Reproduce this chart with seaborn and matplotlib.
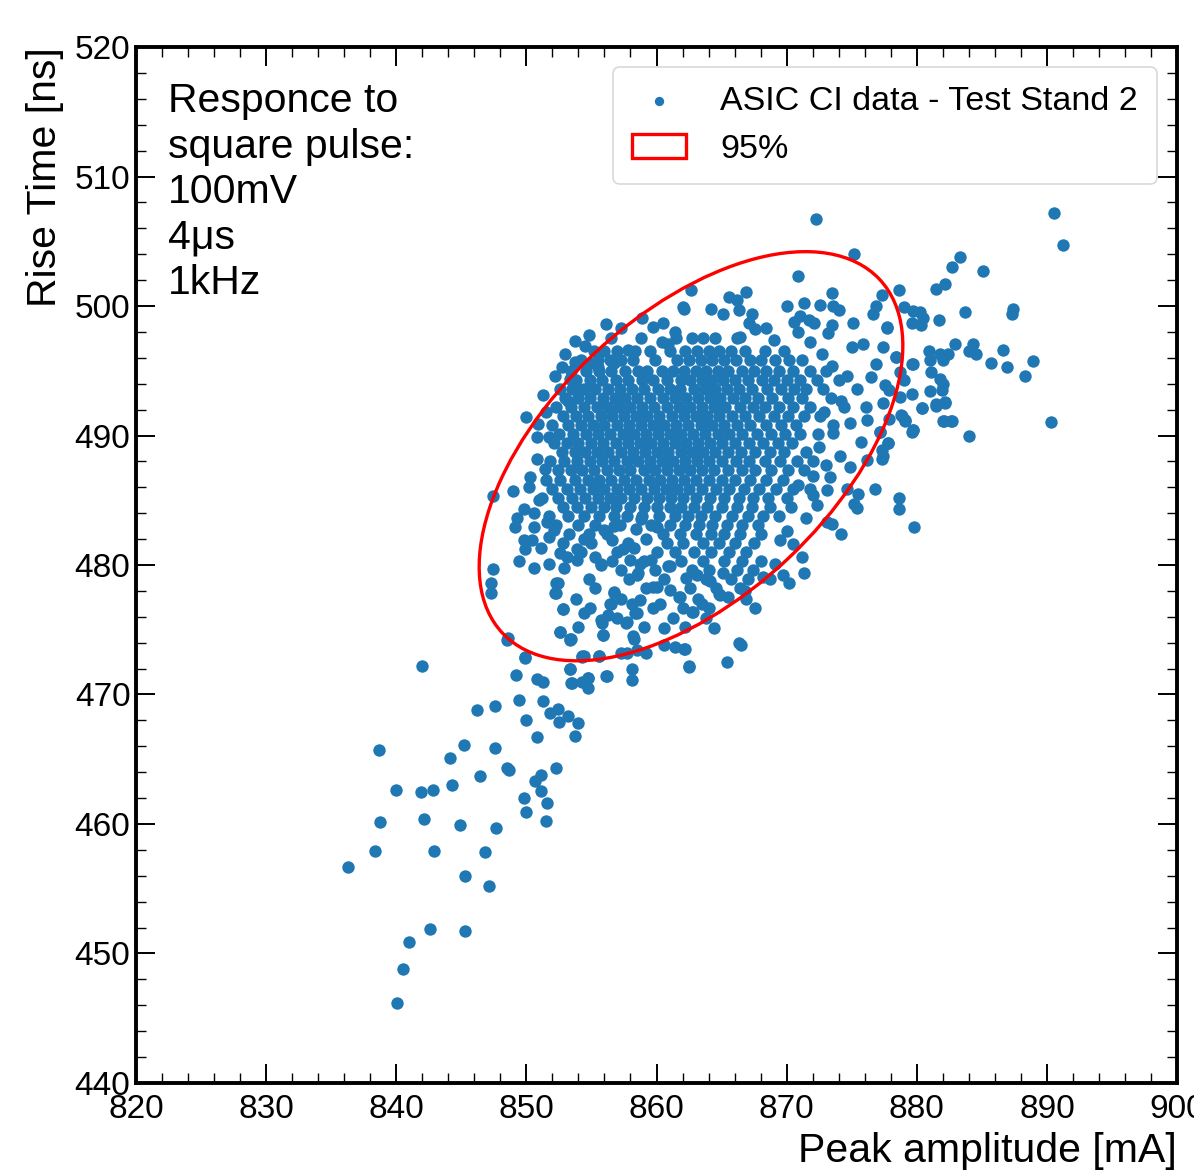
import matplotlib
matplotlib.use("Agg")
import numpy as np
import pandas as pd
import matplotlib.pyplot as plt
import seaborn as sns
from matplotlib.patches import Ellipse
from matplotlib.ticker import MultipleLocator

# --- data: (peak amplitude [mA], rise time [ns]) ---
lower_tail = [
    (841.96, 472.23), (838.65, 465.7), (840.0, 462.6), (841.9, 462.5), (842.85, 462.6),
    (844.3, 463.0), (838.75, 460.15), (842.1, 460.4), (844.9, 459.9), (847.7, 459.7),
    (838.4, 457.9), (842.9, 457.9), (846.8, 457.8), (836.3, 456.7), (845.25, 456.0),
    (847.15, 455.2), (842.6, 451.9), (845.3, 451.7), (841.0, 450.9), (840.5, 448.8),
    (840.05, 446.2), (844.1, 465.1), (845.2, 466.1), (847.55, 465.9), (846.45, 463.7),
    (848.5, 464.3), (848.7, 464.2), (846.2, 468.8), (847.55, 469.1), (851.1, 463.8),
    (850.7, 463.3), (851.1, 462.55), (852.3, 464.3), (849.8, 462.0), (851.6, 461.6),
    (849.97, 460.9), (851.5, 460.2), (849.4, 469.6), (851.3, 469.5), (850.0, 468.0),
    (851.8, 468.55), (852.45, 468.9), (852.5, 467.9), (853.2, 468.3), (853.95, 467.8),
    (850.8, 466.7), (853.7, 466.8), (849.2, 471.5), (849.9, 472.8), (850.8, 471.2),
    (851.3, 471.0), (853.35, 472.0), (853.4, 470.9), (854.3, 471.0), (854.75, 471.25),
    (854.75, 470.5), (854.3, 473.0), (855.6, 473.0), (856.1, 471.4), (853.35, 474.2),
    (848.5, 474.2),
]

upper_right = [
    (890.55, 507.2), (891.2, 504.7), (883.3, 503.8), (882.7, 503.0), (885.1, 502.7),
    (882.2, 501.7), (881.5, 501.3), (878.6, 501.2), (877.3, 500.85), (879.0, 499.95),
    (879.7, 499.6), (880.25, 499.55), (880.45, 499.1), (879.6, 498.7), (880.3, 498.5),
    (881.7, 498.9), (883.7, 499.5), (887.4, 499.75), (887.3, 499.4), (877.7, 498.35),
    (877.4, 496.85), (878.4, 496.1), (879.6, 495.5), (880.96, 496.5), (881.8, 496.3),
    (882.4, 496.3), (881.0, 495.8), (882.0, 495.8), (882.9, 497.1), (884.3, 497.05),
    (884.0, 496.5), (884.55, 496.3), (886.6, 496.6), (885.7, 495.6), (886.9, 495.3),
    (888.9, 495.75), (888.3, 494.6), (878.7, 494.9), (881.1, 494.9), (879.0, 494.3),
    (881.8, 494.4), (882.05, 494.0), (877.55, 493.9), (877.9, 493.5), (881.0, 493.4),
    (881.9, 493.5), (879.6, 493.2), (878.7, 493.0), (877.4, 492.5), (882.2, 492.6),
    (881.5, 492.3), (880.4, 492.1), (877.9, 491.3), (878.9, 491.5), (879.1, 491.1),
    (882.0, 491.1), (882.6, 491.1), (890.3, 491.05), (879.7, 490.4), (884.0, 490.0),
    (877.8, 489.4), (881.5, 492.4), (882.2, 492.5), (877.2, 490.3), (876.2, 491.2),
]

upper_edge = [
    (872.26, 506.74), (875.2, 504.0), (870.9, 502.3), (873.5, 501.0), (866.9, 501.05),
    (862.65, 501.2), (865.6, 500.7), (870.0, 500.0), (871.3, 500.25), (872.6, 500.1),
    (873.6, 500.0), (874.0, 499.7), (876.9, 500.0), (876.6, 499.4), (862.0, 499.9),
    (864.2, 499.75), (866.3, 499.7), (867.3, 499.4), (871.0, 499.2), (871.7, 498.9),
    (872.1, 498.7), (873.5, 498.5), (875.1, 498.7), (877.7, 498.3), (868.4, 498.3),
    (867.1, 498.7), (865.1, 499.4), (870.9, 498.0), (875.9, 497.05), (876.9, 495.5),
    (879.7, 495.5), (878.4, 496.1), (866.2, 500.5),
    (854.5, 496.9), (853.7, 495.7), (857.3, 498.3), (853.35, 494.4), (853.2, 492.7),
    (854.1, 493.5), (854.9, 495.6), (855.5, 495.3), (856.7, 495.6), (857.8, 496.6),
    (858.35, 496.5), (860.5, 498.7), (860.4, 497.2), (860.9, 497.1), (861.4, 498.0),
    (862.1, 499.8), (853.7, 497.3), (854.8, 497.8), (856.1, 498.6), (858.9, 499.1),
    (859.7, 498.4),
]

left_edge = [
    (847.46, 485.3), (849.0, 485.7), (850.8, 489.9), (851.7, 489.9), (850.3, 486.8),
    (849.1, 482.9), (850.6, 482.9), (849.8, 481.9), (849.9, 481.2), (849.4, 480.3),
    (850.6, 479.75), (851.7, 480.1), (847.4, 479.7), (847.3, 478.6), (847.3, 477.8),
    (848.6, 474.4), (852.4, 478.6), (852.3, 477.8), (852.8, 476.6), (854.4, 476.3),
    (856.7, 477.8), (856.4, 477.0), (855.7, 475.75), (855.9, 474.6), (852.6, 474.8),
    (853.35, 474.3), (849.9, 472.9), (854.4, 473.0), (854.4, 482.0), (855.3, 480.6),
    (855.7, 480.0), (856.0, 482.7), (856.7, 483.0), (856.55, 481.9), (853.9, 481.2),
    (853.1, 480.6), (852.6, 480.9), (852.9, 479.75), (851.7, 482.2), (852.1, 482.7),
    (851.1, 481.3), (850.4, 481.9), (850.8, 488.2), (851.4, 487.4), (850.2, 486.0),
    (851.0, 485.0), (849.8, 484.3), (850.6, 484.0), (851.6, 483.3), (849.3, 483.6),
    (850.9, 490.9), (851.5, 491.8), (852.2, 494.6), (852.7, 495.3), (853.0, 496.3),
    (851.3, 493.1), (850.0, 491.4),
]

lower_edge = [
    (857.4, 481.2), (858.3, 481.3), (859.2, 482.0), (858.4, 482.8), (858.8, 483.55),
    (860.0, 482.9), (859.0, 480.3), (859.6, 480.4), (858.5, 479.2), (861.0, 479.9),
    (857.7, 475.6), (858.7, 477.3), (858.5, 476.3), (858.2, 474.5), (860.6, 475.1),
    (860.0, 478.3), (861.0, 478.1), (861.7, 477.55), (857.7, 473.2), (852.8, 476.6),
    (852.6, 474.8), (853.4, 474.3), (854.25, 472.9), (853.35, 472.0), (854.7, 471.3),
    (853.5, 470.9), (856.2, 471.45), (855.6, 473.0), (855.8, 475.5), (855.9, 474.6),
    (856.3, 476.1), (856.5, 477.0), (856.7, 477.9), (857.3, 473.2), (858.1, 472.0),
    (858.1, 471.1), (857.65, 475.5), (858.3, 474.3), (858.5, 473.4), (859.2, 473.2),
    (858.35, 476.3), (858.1, 477.0), (858.6, 479.4), (852.2, 477.8), (852.3, 478.6),
    (860.6, 473.8), (861.4, 473.7), (862.1, 473.5), (862.5, 472.2), (864.4, 475.1),
    (865.4, 472.5), (862.7, 476.4), (863.5, 477.0), (859.7, 478.3), (860.3, 477.0),
    (861.8, 477.55), (860.9, 479.9), (862.3, 479.0), (863.1, 479.2), (864.1, 478.8),
    (864.9, 477.7), (865.5, 477.55), (865.1, 479.4), (866.3, 473.95), (855.7, 480.1),
    (853.9, 480.4), (858.0, 480.4), (858.7, 480.1), (862.5, 472.15), (862.2, 473.5),
    (862.8, 476.4), (864.8, 477.75), (866.5, 473.8),
]

right_edge = [
    (874.2, 482.4), (871.3, 479.4), (870.2, 478.6), (869.7, 479.2), (869.1, 480.1),
    (871.2, 480.6), (870.5, 481.6), (869.5, 481.9), (870.0, 482.6), (868.2, 479.1),
    (866.8, 478.0), (873.1, 483.3), (873.5, 483.2), (871.5, 483.6), (875.2, 484.7),
    (875.4, 484.4), (876.8, 485.9), (878.6, 485.15), (878.65, 484.3), (879.8, 482.9),
    (874.9, 487.6), (875.5, 485.5), (874.6, 485.9), (876.2, 488.1), (877.4, 488.4),
    (877.8, 489.4), (879.65, 490.3), (877.2, 490.3), (873.3, 486.8), (873.1, 485.8),
    (872.0, 485.4), (872.3, 484.6), (880.4, 492.1), (882.1, 491.1), (882.7, 491.1),
    (879.7, 490.4), (878.8, 491.6), (879.1, 491.2), (877.35, 488.9), (877.35, 488.2),
    (871.8, 497.2), (872.7, 496.3), (873.5, 495.4), (874.6, 494.6), (875.4, 493.6),
    (874.2, 492.7), (872.9, 491.8), (874.9, 491.0), (876.1, 492.2), (873.6, 490.2),
    (875.7, 489.5), (872.5, 489.1), (874.1, 488.4), (876.5, 494.5), (875.0, 496.8),
    (873.2, 497.9), (870.6, 498.8), (869.0, 497.4), (867.6, 498.2), (866.4, 497.6),
    (872.0, 486.9), (870.9, 486.2), (873.0, 487.7),
]

# dense core, one row of x values per rise-time level
core_upper = [
    (497.5, [856.5, 858.8, 861.5, 862.7, 863.6, 864.5, 866.2]),
    (496.5, [855.2, 856.0, 857.0, 859.5, 861.0, 862.2, 863.1, 864.0, 864.8, 865.7, 866.8, 868.3, 869.8]),
    (495.8, [854.2, 855.5, 856.4, 857.3, 858.2, 859.9, 861.6, 862.5, 863.4, 864.3, 865.2, 866.1, 867.2, 868.0, 869.1, 870.2, 871.2]),
    (495.0, [853.4, 854.6, 855.6, 856.5, 857.6, 858.6, 859.3, 860.4, 861.3, 862.1, 863.0, 863.8, 864.7, 865.5, 866.6, 867.5, 868.4, 869.4, 870.5, 871.8, 873.0]),
    (494.3, [853.8, 854.9, 855.8, 856.9, 857.8, 858.9, 859.7, 860.8, 861.9, 862.6, 863.5, 864.3, 865.1, 866.0, 867.0, 868.1, 869.0, 870.0, 871.0, 872.3, 874.0]),
    (493.6, [852.6, 853.5, 854.4, 855.3, 856.3, 857.2, 858.1, 859.0, 860.1, 861.0, 861.8, 862.9, 863.7, 864.5, 865.4, 866.3, 867.3, 868.5, 869.6, 870.6, 871.5, 872.8]),
    (492.9, [853.0, 854.0, 854.9, 855.9, 856.8, 857.6, 858.5, 859.5, 860.5, 861.4, 862.3, 863.2, 864.1, 864.9, 865.9, 866.8, 867.8, 868.9, 870.1, 871.2, 873.4]),
    (492.2, [852.3, 853.4, 854.4, 855.4, 856.3, 857.1, 858.0, 858.9, 859.8, 860.8, 861.7, 862.6, 863.5, 864.4, 865.3, 866.4, 867.4, 868.3, 869.4, 870.5, 871.8, 874.4]),
    (491.5, [852.8, 853.8, 854.7, 855.7, 856.6, 857.5, 858.4, 859.3, 860.2, 861.2, 862.1, 863.0, 863.9, 864.8, 865.8, 866.8, 867.9, 869.0, 870.1, 871.3, 872.6]),
    (490.8, [852.0, 853.2, 854.2, 855.1, 856.0, 857.0, 857.9, 858.8, 859.7, 860.6, 861.5, 862.4, 863.4, 864.3, 865.2, 866.2, 867.2, 868.4, 869.6, 870.7, 873.6]),
    (490.1, [852.5, 853.6, 854.6, 855.5, 856.4, 857.4, 858.3, 859.2, 860.1, 861.0, 861.9, 862.8, 863.7, 864.7, 865.6, 866.6, 867.7, 868.8, 869.9, 871.0, 872.4]),
]

core_lower = [
    (489.4, [852.1, 853.1, 854.0, 855.0, 855.9, 856.9, 857.8, 858.7, 859.6, 860.5, 861.4, 862.3, 863.2, 864.1, 865.0, 866.0, 867.1, 868.2, 869.3, 870.4]),
    (488.7, [852.7, 853.7, 854.5, 855.4, 856.3, 857.3, 858.2, 859.1, 860.0, 860.9, 861.9, 862.7, 863.6, 864.5, 865.5, 866.5, 867.6, 868.7, 869.8, 871.5]),
    (488.0, [851.8, 852.9, 853.9, 854.9, 855.8, 856.7, 857.7, 858.6, 859.5, 860.4, 861.3, 862.2, 863.1, 864.0, 865.0, 866.1, 867.1, 868.3, 869.5, 870.8, 872.0]),
    (487.3, [852.4, 853.4, 854.3, 855.2, 856.2, 857.1, 858.0, 859.0, 859.9, 860.8, 861.7, 862.6, 863.5, 864.4, 865.5, 866.6, 867.6, 868.8, 870.1, 871.3]),
    (486.6, [851.5, 852.6, 853.7, 854.7, 855.6, 856.5, 857.5, 858.4, 859.4, 860.3, 861.2, 862.1, 863.0, 864.0, 865.0, 866.0, 867.2, 868.4, 869.7]),
    (485.9, [852.0, 853.1, 854.1, 855.1, 856.0, 857.0, 857.9, 858.8, 859.8, 860.7, 861.6, 862.5, 863.5, 864.6, 865.6, 866.7, 867.9, 869.2, 870.5, 871.8]),
    (485.2, [851.2, 852.4, 853.5, 854.5, 855.5, 856.4, 857.3, 858.3, 859.3, 860.2, 861.1, 862.0, 863.0, 864.1, 865.2, 866.3, 867.4, 868.6, 870.0]),
    (484.5, [852.8, 853.9, 855.0, 856.0, 856.9, 858.0, 859.0, 860.0, 861.0, 861.9, 862.9, 863.9, 865.0, 866.2, 867.3, 868.7, 870.3]),
    (483.8, [851.7, 853.2, 854.4, 855.6, 856.7, 857.7, 858.9, 860.2, 861.4, 862.4, 863.4, 864.5, 865.8, 867.0, 868.2, 869.4]),
    (483.1, [852.3, 854.0, 855.3, 857.2, 859.6, 861.0, 862.2, 863.3, 864.3, 865.4, 866.6, 867.8]),
    (482.4, [853.3, 854.8, 856.2, 860.5, 861.8, 863.0, 864.2, 865.2, 866.4, 868.0]),
    (481.7, [852.8, 855.0, 857.8, 860.8, 862.0, 863.6, 864.8, 866.0, 867.5]),
    (481.0, [854.2, 857.0, 860.0, 861.4, 862.9, 864.2, 865.6, 866.9]),
    (480.3, [856.6, 861.9, 863.6, 865.2, 866.6, 868.0]),
    (479.6, [857.3, 859.9, 862.7, 864.0, 866.2, 867.4]),
    (478.9, [854.8, 857.9, 860.6, 863.8, 865.7, 867.0, 868.7]),
    (478.2, [855.3, 859.2, 862.6, 864.6, 866.4]),
    (477.4, [853.8, 857.3, 863.2, 866.9]),
    (476.7, [854.9, 859.7, 862.0, 864.0, 867.6]),
    (475.9, [857.0, 861.3, 863.8]),
    (475.2, [854.0, 859.0, 862.2]),
]

# 95% ellipse: centre and shape matrix (x/y extents)
ellipse_center = (862.65, 488.4)
ellipse_shape = [[265.0, 139.0], [139.0, 249.6]]

info_text = "Responce to\nsquare pulse:\n100mV\n4\u03bcs\n1kHz"
data_label = "ASIC CI data - Test Stand 2"

# --- build the table ---
pairs = lower_tail + upper_right + upper_edge + left_edge + lower_edge + right_edge
for y, xs in core_upper + core_lower:
    pairs += [(x, y) for x in xs]
df = pd.DataFrame(pairs, columns=["peak", "rise"])

# --- style ---
sns.set_theme(style="ticks")
plt.rcParams["font.family"] = ["Liberation Sans", "DejaVu Sans"]
plt.rcParams["text.color"] = "black"
plt.rcParams["axes.labelcolor"] = "black"
plt.rcParams["xtick.color"] = "black"
plt.rcParams["ytick.color"] = "black"

fig = plt.figure(figsize=(11.94, 11.70), dpi=100)
ax = fig.add_axes([0.1139, 0.0744, 0.8719, 0.8854])

sns.scatterplot(data=df, x="peak", y="rise", ax=ax, s=80, color="#1f77b4",
                linewidth=0, label=data_label, zorder=2)

vals, vecs = np.linalg.eigh(np.array(ellipse_shape))
order = vals.argsort()[::-1]
vals, vecs = vals[order], vecs[:, order]
angle = np.degrees(np.arctan2(vecs[1, 0], vecs[0, 0]))
ell = Ellipse(ellipse_center, width=2 * np.sqrt(vals[0]), height=2 * np.sqrt(vals[1]),
              angle=angle, fill=False, edgecolor="red", linewidth=2.4, label="95%", zorder=3)
ax.add_patch(ell)

ax.set_xlim(820, 900)
ax.set_ylim(440, 520)
ax.xaxis.set_major_locator(MultipleLocator(10))
ax.xaxis.set_minor_locator(MultipleLocator(2))
ax.yaxis.set_major_locator(MultipleLocator(10))
ax.yaxis.set_minor_locator(MultipleLocator(2))
ax.tick_params(which="both", direction="in", top=True, right=True, colors="black",
               labelsize=24)
ax.tick_params(which="major", length=14, width=1.4)
ax.tick_params(which="minor", length=7, width=1.0)
ax.tick_params(axis="x", which="major", pad=8)
ax.tick_params(axis="y", which="major", pad=4)
for sp in ax.spines.values():
    sp.set_linewidth(2.8)
    sp.set_color("black")

ax.set_xlabel("Peak amplitude [mA]", fontsize=29.5, loc="right", labelpad=5)
ax.set_ylabel("Rise Time [ns]", fontsize=29.5, loc="top", labelpad=8)

ax.text(0.031, 0.966, info_text, transform=ax.transAxes, fontsize=29.5,
        va="top", ha="left", linespacing=1.25)

leg = ax.legend(loc="upper right", fontsize=24.5, frameon=True, fancybox=True,
                markerscale=0.75, handlelength=1.6, borderaxespad=0.6,
                handletextpad=1.0, borderpad=0.55, labelspacing=0.5)
leg.get_frame().set_edgecolor("#d0d0d0")
leg.get_frame().set_linewidth(1.2)

fig.savefig("out.png", dpi=100)
